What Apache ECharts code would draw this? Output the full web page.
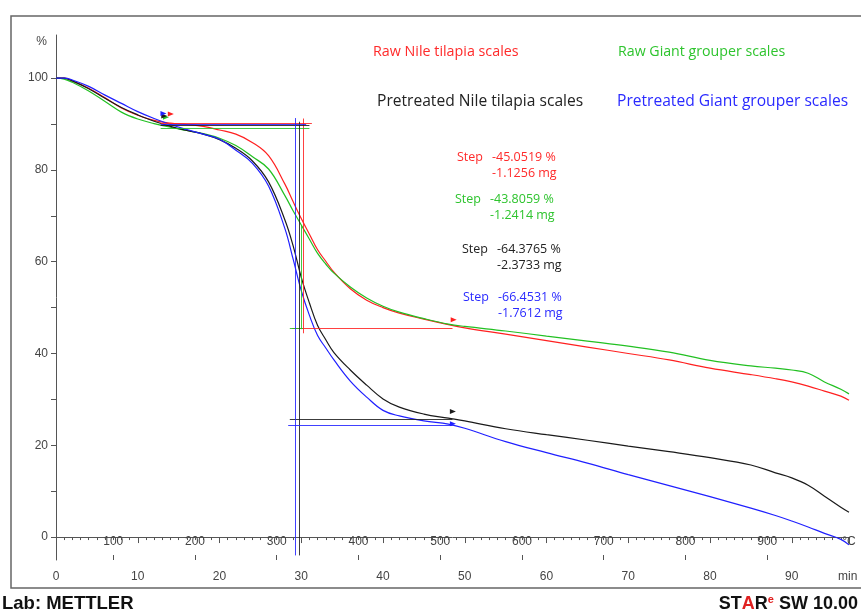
<!DOCTYPE html>
<html>
<head>
<meta charset="utf-8">
<script src="https://cdn.jsdelivr.net/npm/echarts@6/dist/echarts.min.js"></script>
<style>
  html, body { margin: 0; padding: 0; background: #fff; }
  #chart { width: 861px; height: 612px; }
</style>
</head>
<body>
<div id="chart"></div>
<script>
// time axis (min) shared by all four TGA curves
const times = [0, 1, 2, 4, 6, 8, 10, 12, 14, 16, 18, 20, 22, 24, 26, 28, 29, 30, 31, 32, 33, 34, 36, 38, 40, 42, 45, 48, 50, 55, 60, 65, 70, 75, 80, 85, 88, 90, 92, 94, 96, 97];

// weight %
const rawNile = [100, 100, 99.4, 97.8, 95.7, 93.5, 91.9, 90.8, 90.2, 89.9, 89.5, 88.7, 87.8, 86.0, 83.1, 76.9, 73.1, 69.4, 66.0, 62.6, 60.1, 57.7, 54.1, 51.6, 50.0, 48.8, 47.5, 46.3, 45.6, 44.2, 42.8, 41.4, 40.0, 38.6, 36.8, 35.4, 34.5, 33.8, 32.9, 31.8, 30.7, 29.8];
const rawGrouper = [100, 99.8, 99.1, 97.2, 94.9, 92.6, 91.1, 90.1, 89.3, 88.6, 87.9, 86.9, 85.3, 82.9, 80.2, 74.4, 71.1, 68.0, 64.9, 61.8, 59.5, 57.5, 54.5, 52.1, 50.3, 49.0, 47.6, 46.4, 45.9, 44.9, 43.8, 42.7, 41.6, 40.3, 38.5, 37.3, 36.8, 36.4, 35.7, 33.8, 32.2, 31.2];
const preNile = [100, 100, 99.4, 97.7, 95.6, 93.6, 92.0, 90.6, 89.5, 88.6, 87.8, 86.6, 84.7, 82.0, 77.4, 69.1, 63.5, 56.6, 51.0, 46.1, 43.0, 40.2, 36.4, 33.1, 30.1, 28.3, 26.8, 25.9, 25.3, 23.6, 22.3, 21.1, 19.8, 18.6, 17.3, 15.7, 14.0, 12.9, 11.3, 8.9, 6.5, 5.4];
const preGrouper = [100, 100, 99.6, 98.2, 96.3, 94.5, 92.7, 91.2, 89.9, 88.8, 87.8, 86.7, 84.3, 81.5, 76.5, 67.2, 60.6, 53.7, 48.3, 43.9, 41.2, 38.6, 34.0, 30.5, 27.6, 26.4, 25.3, 24.6, 23.7, 20.8, 18.4, 16.1, 13.6, 11.2, 8.8, 6.3, 4.7, 3.5, 2.2, 0.8, -0.5, -1.7];

const seriesNames = ['Raw Nile tilapia scales', 'Raw Giant grouper scales', 'Pretreated Nile tilapia scales', 'Pretreated Giant grouper scales'];

// step evaluation results
const stepPct = ['-45.0519', '-43.8059', '-64.3765', '-66.4531'];
const stepMg = ['-1.1256', '-1.2414', '-2.3733', '-1.7612'];

// step construction lines (time in min, weight in %)
const stepTopLevel = [90.2, 89.1, 89.8, 90.0];
const stepTopFrom = [12.8, 12.8, 12.8, 12.8];
const stepTopTo = [31.3, 31.0, 31.0, 30.6];
const stepMidTime = [30.2, 29.95, 29.7, 29.3];
const stepMidTop = [91.2, 68.0, 90.5, 91.3];
const stepMidBottom = [44.4, 45.3, -4, -4];
const stepEndLevel = [45.5, 45.6, 25.7, 24.3];
const stepEndFrom = [28.9, 28.6, 28.6, 28.4];
const stepEndTo = [48.5, 30.2, 48.5, 48.5];
// little step limit flags (none at the end of the green step)
const flagStart = [[13.8, 91.3], [13.2, 90.6], [13.0, 90.9], [12.9, 91.4]];
const flagEnd = [[48.4, 46.5], null, [48.3, 26.5], [48.3, 23.8]];

// temperature ticks on the same base line (°C = 30 + 10 * min)
const tempTicks = [100, 200, 300, 400, 500, 600, 700, 800, 900];

const colors = ['#ff2020', '#22c022', '#1a1a1a', '#2020ff'];
const textColors = ['#ff2a2a', '#2ec42e', '#222222', '#2a2aff'];
const allCurves = [rawNile, rawGrouper, preNile, preGrouper];

const chart = echarts.init(document.getElementById('chart'));

function stepLines(i) {
    return [
        [{ coord: [stepTopFrom[i], stepTopLevel[i]] }, { coord: [stepTopTo[i], stepTopLevel[i]] }],
        [{ coord: [stepMidTime[i], stepMidTop[i]] }, { coord: [stepMidTime[i], stepMidBottom[i]] }],
        [{ coord: [stepEndFrom[i], stepEndLevel[i]] }, { coord: [stepEndTo[i], stepEndLevel[i]] }]
    ];
}

function stepFlags(i) {
    const out = [{ coord: flagStart[i] }];
    if (flagEnd[i]) out.push({ coord: flagEnd[i] });
    return out;
}

const series = [];
for (let i = 0; i < allCurves.length; i++) {
    const pts = [];
    for (let k = 0; k < times.length; k++) {
        pts.push([times[k], allCurves[i][k]]);
    }
    series.push({
        name: seriesNames[i],
        type: 'line',
        xAxisIndex: 0,
        yAxisIndex: 0,
        data: pts,
        smooth: 0.4,
        showSymbol: false,
        lineStyle: { color: colors[i], width: 1.2 },
        itemStyle: { color: colors[i] },
        markLine: {
            silent: true,
            symbol: 'none',
            label: { show: false },
            lineStyle: { color: colors[i], width: 1, type: 'solid', opacity: 0.85 },
            data: stepLines(i)
        },
        markPoint: {
            silent: true,
            symbol: 'triangle',
            symbolSize: [5, 6],
            symbolRotate: -90,
            symbolOffset: [2, -4],
            label: { show: false },
            itemStyle: { color: colors[i] },
            data: stepFlags(i)
        }
    });
}

const graphics = [
    // outer frame
    { type: 'rect', shape: { x: 11, y: 16, width: 880, height: 572 }, style: { fill: 'none', stroke: '#666', lineWidth: 1.5 }, silent: true },
    { type: 'text', x: 47, y: 42, style: { text: '%', fill: '#444', font: '12px "Liberation Sans"', align: 'right', verticalAlign: 'middle' } },
    { type: 'text', x: 838, y: 577, style: { text: 'min', fill: '#444', font: '12px "Liberation Sans"', align: 'left', verticalAlign: 'middle' } },
    // legend-like titles
    { type: 'text', x: 373, y: 52, style: { text: seriesNames[0], fill: textColors[0], font: '14.3px "Open Sans"', verticalAlign: 'middle' } },
    { type: 'text', x: 618, y: 52, style: { text: seriesNames[1], fill: textColors[1], font: '14.2px "Open Sans"', verticalAlign: 'middle' } },
    { type: 'text', x: 377, y: 102, style: { text: seriesNames[2], fill: textColors[2], font: '15.6px "Open Sans"', verticalAlign: 'middle' } },
    { type: 'text', x: 617, y: 102, style: { text: seriesNames[3], fill: textColors[3], font: '15.6px "Open Sans"', verticalAlign: 'middle' } },
    // footer
    { type: 'text', x: 2, y: 604, style: { text: 'Lab: METTLER', fill: '#111', font: 'bold 18.5px "Liberation Sans"', verticalAlign: 'middle' } },
    {
        type: 'text', x: 858, y: 604,
        style: {
            text: '{k|ST}{r|A}{k|R}{e|e}{k| SW 10.00}',
            align: 'right', verticalAlign: 'middle',
            rich: {
                k: { fill: '#111', font: 'bold 18px "Liberation Sans"' },
                r: { fill: '#e02020', font: 'bold 18px "Liberation Sans"' },
                e: { fill: '#e02020', font: 'bold 11px "Liberation Sans"', verticalAlign: 'top', padding: [0, 0, 8, 0] }
            }
        }
    }
];

// step result texts
const stepWordX = [457, 455, 462, 463];
const stepValX = [492, 490, 497, 498];
const stepY = [157, 199, 249, 297];
for (let i = 0; i < 4; i++) {
    graphics.push({ type: 'text', x: stepWordX[i], y: stepY[i], style: { text: 'Step', fill: textColors[i], font: '12.5px "Open Sans"', verticalAlign: 'middle' } });
    graphics.push({ type: 'text', x: stepValX[i], y: stepY[i], style: { text: stepPct[i] + ' %', fill: textColors[i], font: '12.5px "Open Sans"', verticalAlign: 'middle' } });
    graphics.push({ type: 'text', x: stepValX[i], y: stepY[i] + 16, style: { text: stepMg[i] + ' mg', fill: textColors[i], font: '12.5px "Open Sans"', verticalAlign: 'middle' } });
}

const option = {
    backgroundColor: '#fff',
    animation: false,
    grid: { left: 56, right: 12, top: 35, bottom: 52, containLabel: false },
    xAxis: [
        {
            type: 'value',
            min: 0,
            max: 97,
            interval: 10,
            axisLine: { show: true, lineStyle: { color: '#555', width: 1 } },
            axisTick: { show: true, length: 6, lineStyle: { color: '#555' } },
            minorTick: { show: true, splitNumber: 10, length: 3, lineStyle: { color: '#555' } },
            axisLabel: { color: '#444', fontSize: 12, fontFamily: 'Liberation Sans', margin: 11, showMaxLabel: false },
            splitLine: { show: false }
        },
        {
            type: 'value',
            position: 'bottom',
            min: 30,
            max: 1000,
            axisLine: { show: false },
            axisTick: { show: true, inside: true, length: 5, customValues: tempTicks, lineStyle: { color: '#555' } },
            axisLabel: {
                inside: true,
                margin: 12,
                color: '#444',
                fontSize: 12,
                fontFamily: 'Liberation Sans',
                customValues: tempTicks.concat([1000]),
                formatter: function (v) { return v === 1000 ? '°C' : String(v); }
            },
            splitLine: { show: false }
        }
    ],
    yAxis: {
        type: 'value',
        min: -5,
        max: 109.4,
        axisLine: { show: true, lineStyle: { color: '#555', width: 1 } },
        axisTick: { show: true, length: 5, customValues: [0, 10, 20, 30, 40, 50, 60, 70, 80, 90, 100], lineStyle: { color: '#555' } },
        axisLabel: { color: '#444', fontSize: 12, fontFamily: 'Liberation Sans', margin: 8, customValues: [0, 20, 40, 60, 80, 100] },
        splitLine: { show: false }
    },
    series: series,
    graphic: graphics
};

chart.setOption(option);
</script>
</body>
</html>
